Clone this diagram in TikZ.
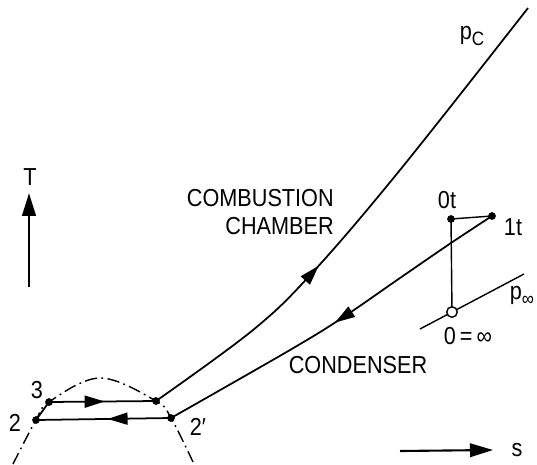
\documentclass[tikz,border=0pt]{standalone}
\usepackage{fontspec}
\setmainfont{Liberation Sans}[FakeStretch=0.88]
\usetikzlibrary{arrows.meta,decorations.markings}

\tikzset{
  linea/.style={line width=1pt},
  flecha/.style={postaction={decorate},
    decoration={markings,mark=at position #1 with {\arrow{Triangle[length=0.4cm,width=0.24cm]}}}},
  eje/.style={line width=1.6pt,-{Triangle[length=0.46cm,width=0.27cm]}},
  punto/.style={circle,fill,inner sep=0pt,minimum size=4.4pt},
  hueco/.style={circle,draw,fill=white,line width=0.8pt,inner sep=0pt,minimum size=6pt},
  etiqueta/.style={font=\fontsize{14}{16}\selectfont,inner sep=0pt},
  cupula/.style={line width=0.8pt,dash pattern=on 7pt off 2.5pt on 1pt off 2.5pt},
}
\newcommand{\subi}[1]{\raisebox{-0.45ex}{\fontsize{11}{12}\selectfont #1}}

\begin{document}
\begin{tikzpicture}[x=0.02cm,y=0.02cm]
\useasboundingbox (0,0) rectangle (537,464);
% Puntos del ciclo
\coordinate (n2)  at (36,44);
\coordinate (n3)  at (49,62);
\coordinate (n3r) at (156,63);
\coordinate (n2p) at (171,46);
\coordinate (n0t) at (451,245);
\coordinate (n1t) at (492,248);
\coordinate (n0)  at (452,152);
\coordinate (pc)  at (528,456);
\coordinate (pinfA) at (420,135);
\coordinate (pinfB) at (524,190);
% Curva limite (campana)
\draw[cupula] plot[smooth,tension=0.6] coordinates {(13,0) (n2) (n3) (100,86) (n3r) (n2p) (193,2)};
% Isobara p_C (camara de combustion)
\draw[linea,flecha=0.39] plot[smooth,tension=0.6] coordinates {(n3r) (253,134) (313,192) (400,294) (pc)};
% Condensador
\draw[linea,flecha=0.5] plot[smooth,tension=0.6] coordinates {(n1t) (451,221) (400,186) (342,146) (290,114) (n2p)};
% Tramos horizontales
\draw[linea,flecha=0.52] (n3) -- (n3r);
\draw[linea,flecha=0.47] (n2p) -- (n2);
\draw[linea] (n2) -- (n3);
% Tobera
\draw[line width=0.8pt] (pinfA) -- (pinfB);
\draw[line width=0.8pt] (n1t) -- (n0t) -- (n0);
\foreach \p in {n2,n3,n3r,n2p,n0t,n1t} {
  \node[punto] at (\p) {};
}
\node[hueco] at (n0) {};
% Ejes
\draw[eje] (29,177) -- (29,271);
\draw[eje,line width=1.2pt] (400,13) -- (493,14);
% Etiquetas
\node[etiqueta] at (30,287)  {T};
\node[etiqueta] at (517,14)  {s};
\node[etiqueta] at (37,74)   {3};
\node[etiqueta] at (15,41)   {2};
\node[etiqueta] at (198,37)  {2′};
\node[etiqueta] at (447,264) {0t};
\node[etiqueta] at (513,237) {1t};
\node[etiqueta] at (468,128) {0\,=\,∞};
\node[etiqueta] at (472,428) {p\subi{C}};
\node[etiqueta] at (522,168) {p\subi{∞}};
\node[etiqueta,align=right,anchor=east] at (334,252) {COMBUSTION\\CHAMBER};
\node[etiqueta] at (358,99)  {CONDENSER};
\end{tikzpicture}
\end{document}
